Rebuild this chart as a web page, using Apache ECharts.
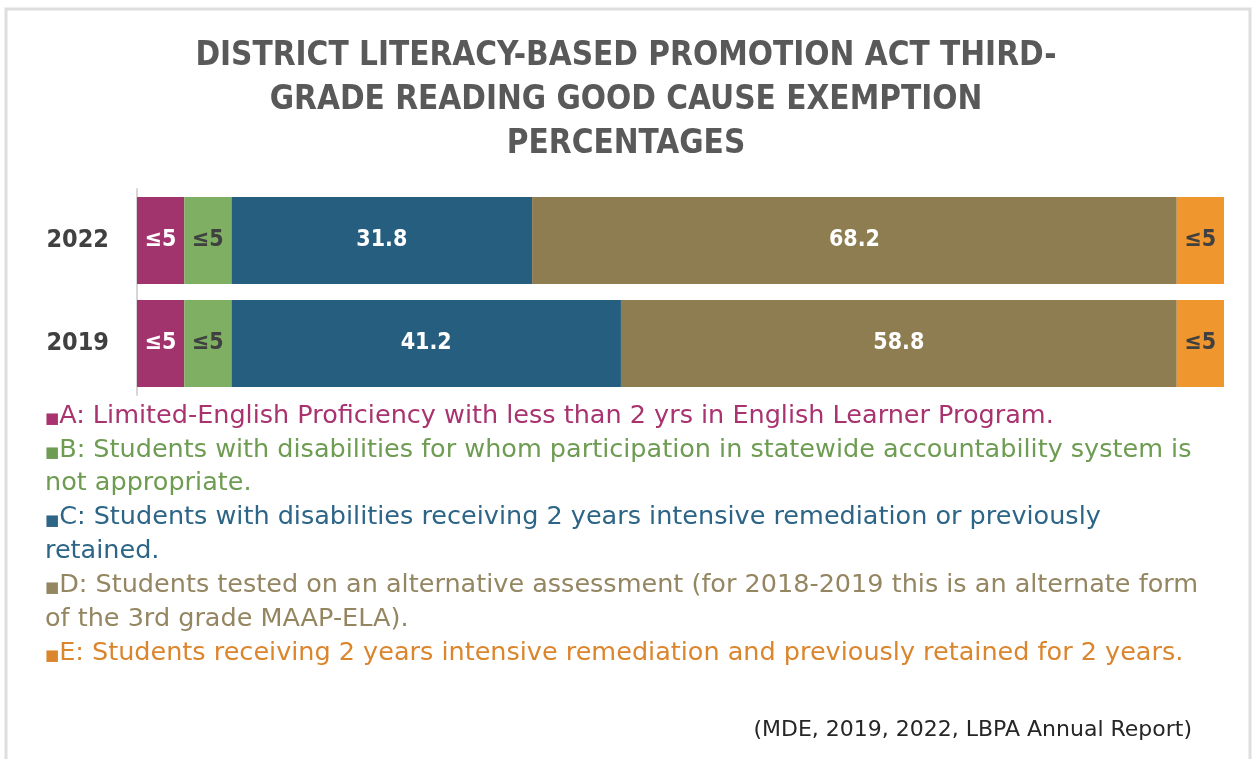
<!DOCTYPE html>
<html>
<head>
<meta charset="utf-8">
<script src="https://cdn.jsdelivr.net/npm/echarts@6/dist/echarts.min.js"></script>
<style>
  html, body { margin: 0; padding: 0; background: #fff; }
  #chart { width: 1252px; height: 759px; }
</style>
</head>
<body>
<div id="chart"></div>
<script>
// ==================== 数据 ====================
const years = ['2019', '2022']
const segA = [5, 5]
const segB = [5, 5]
const segC = [41.2, 31.8]
const segD = [58.8, 68.2]
const segE = [5, 5]
const suppressedLabel = '≤5'

const titleLines = [
  'DISTRICT LITERACY-BASED PROMOTION ACT THIRD-',
  'GRADE READING GOOD CAUSE EXEMPTION',
  'PERCENTAGES'
]

const legendLines = [
  ['A: Limited-English Proficiency with less than 2 yrs in English Learner Program.'],
  ['B: Students with disabilities for whom participation in statewide accountability system is', 'not appropriate.'],
  ['C: Students with disabilities receiving 2 years intensive remediation or previously', 'retained.'],
  ['D: Students tested on an alternative assessment (for 2018-2019 this is an alternate form', 'of the 3rd grade MAAP-ELA).'],
  ['E: Students receiving 2 years intensive remediation and previously retained for 2 years.']
]
const sourceText = '(MDE, 2019, 2022, LBPA Annual Report)'

// ==================== 颜色 ====================
const barColors = ['#A1346C', '#7FAF62', '#255E7E', '#8E7D51', '#F0962E']
const legendColors = ['#A8336F', '#6E9C52', '#2D6587', '#958662', '#DB852D']
const labelColors = ['#FFFFFF', '#404040', '#FFFFFF', '#FFFFFF', '#404040']

const chart = echarts.init(document.getElementById('chart'))

function makeSeries(name, data, idx, fixedLabel) {
  return {
    name,
    type: 'bar',
    stack: 'total',
    barWidth: 87,
    data,
    itemStyle: { color: barColors[idx] },
    label: {
      show: true,
      position: 'inside',
      color: labelColors[idx],
      fontFamily: 'DejaVu Sans Condensed',
      fontWeight: 'bold',
      fontSize: 23,
      formatter: fixedLabel ? () => fixedLabel : (p) => p.value.toFixed(1)
    }
  }
}

// legend text block
const legendGraphics = []
let lineIdx = 0
legendLines.forEach((lines, i) => {
  lines.forEach((line, j) => {
    legendGraphics.push({
      type: 'text',
      left: 45,
      top: 403 + lineIdx * 33.9,
      style: {
        text: j === 0 ? '{sq|■}' + line : line,
        fill: legendColors[i],
        font: '25.5px "DejaVu Sans"',
        rich: { sq: { fill: legendColors[i], fontSize: 15, fontFamily: 'DejaVu Sans', padding: [6, 0, 0, 0] } }
      }
    })
    lineIdx++
  })
})

chart.setOption({
  backgroundColor: '#fff',
  animation: false,
  title: {
    text: titleLines.join('\n'),
    left: 'center',
    top: 29,
    textStyle: {
      color: '#595959',
      fontFamily: 'DejaVu Sans Condensed',
      fontWeight: 'bold',
      fontSize: 33,
      lineHeight: 44
    }
  },
  grid: { left: 137, right: 28, top: 189, height: 206 },
  xAxis: { type: 'value', min: 0, max: 115, show: false },
  yAxis: {
    type: 'category',
    data: years,
    axisLine: { show: true, lineStyle: { color: '#D6D6D6', width: 2 } },
    axisTick: { show: false },
    axisLabel: { color: '#404040', fontFamily: 'DejaVu Sans Condensed', fontWeight: 'bold', fontSize: 25, margin: 28 }
  },
  series: [
    makeSeries('A', segA, 0, suppressedLabel),
    makeSeries('B', segB, 1, suppressedLabel),
    makeSeries('C', segC, 2),
    makeSeries('D', segD, 3),
    makeSeries('E', segE, 4, suppressedLabel)
  ],
  graphic: [
    // frame
    { type: 'rect', shape: { x: 6, y: 9, width: 1244, height: 760 }, style: { fill: 'none', stroke: '#DEDEDE', lineWidth: 3 }, silent: true },
    ...legendGraphics,
    {
      type: 'text',
      right: 60,
      top: 719,
      style: { text: sourceText, fill: '#262626', font: '22px "DejaVu Sans"' }
    }
  ]
})
</script>
</body>
</html>
